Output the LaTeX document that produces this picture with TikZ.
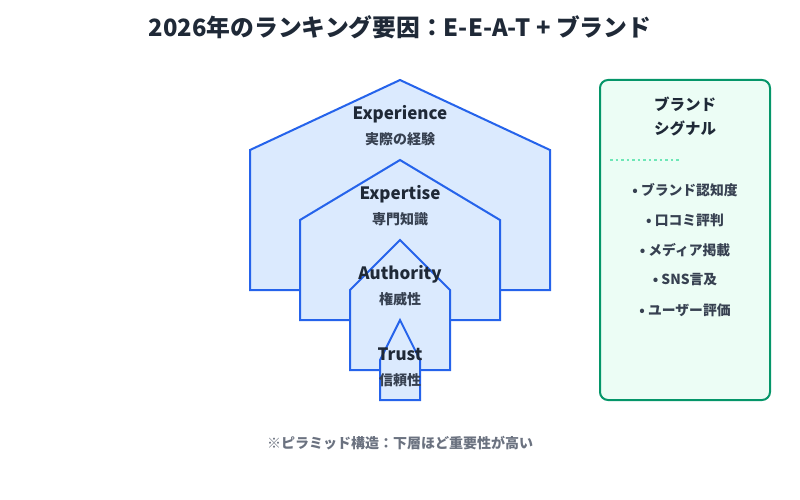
\documentclass[tikz,border=0pt]{standalone}
\usepackage{fontspec}
\setmainfont{Noto Sans CJK JP}
\definecolor{titlec}{HTML}{1F2937}
\definecolor{subc}{HTML}{374151}
\definecolor{footc}{HTML}{6B7280}
\definecolor{blfill}{HTML}{DBEAFE}
\definecolor{bldraw}{HTML}{2563EB}
\definecolor{grfill}{HTML}{ECFDF5}
\definecolor{grdraw}{HTML}{059669}
\definecolor{grdot}{HTML}{6EE7B7}
\tikzset{
  house/.style={fill=blfill, draw=bldraw, line width=2pt, line join=miter},
  lbl/.style={font=\fontsize{17}{19}\selectfont\bfseries, text=titlec, inner sep=0pt},
  sublbl/.style={font=\fontsize{14}{16}\selectfont\bfseries, text=subc, inner sep=0pt},
  item/.style={font=\fontsize{13.8}{16}\selectfont\bfseries, text=subc, inner sep=0pt},
}
\begin{document}
\begin{tikzpicture}[x=1pt,y=-1pt]
\useasboundingbox (0,0) rectangle (800,500);
% title
\node[font=\fontsize{23.8}{26}\selectfont\bfseries, text=titlec, inner sep=0pt] (title) at (400,27) {2026年のランキング要因：E-E-A-T + ブランド};
% houses
\draw[house] (250,290) -- (250,150) -- (400,80) -- (550,150) -- (550,290) -- cycle;
\node[lbl] (exp) at (400,114) {Experience};
\node[sublbl] (expj) at (400,139) {実際の経験};
\draw[house] (300,320) -- (300,220) -- (400,160) -- (500,220) -- (500,320) -- cycle;
\node[lbl] (ext) at (400,194) {Expertise};
\node[sublbl] (extj) at (400,219) {専門知識};
\draw[house] (350,370) -- (350,290) -- (400,240) -- (450,290) -- (450,370) -- cycle;
\node[lbl] (aut) at (400,274) {Authority};
\node[sublbl] (autj) at (400,299) {権威性};
\draw[house] (380,400) -- (380,360) -- (400,320) -- (420,360) -- (420,400) -- cycle;
\node[lbl] (tru) at (400,354) {Trust};
\node[sublbl] (truj) at (400,380) {信頼性};
% brand box
\draw[fill=grfill, draw=grdraw, line width=2pt, rounded corners=8pt] (600,80) rectangle (770,400);
\node[font=\fontsize{15.5}{17}\selectfont\bfseries, text=titlec, inner sep=0pt] (b1) at (685,104) {ブランド};
\node[font=\fontsize{15.5}{17}\selectfont\bfseries, text=titlec, inner sep=0pt] (b2) at (685,128) {シグナル};
\draw[grdot, line width=1.5pt, dash pattern=on 2.5pt off 3pt] (610,160) -- (680,160);
\node[item] (i1) at (685,190) {• ブランド認知度};
\node[item] (i2) at (685,220) {• 口コミ評判};
\node[item] (i3) at (685,250) {• メディア掲載};
\node[item] (i4) at (685,280) {• SNS言及};
\node[item] (i5) at (685,310) {• ユーザー評価};
% footnote
\node[font=\fontsize{14}{16}\selectfont\bfseries, text=footc, inner sep=0pt] (foot) at (400,443) {※ピラミッド構造：下層ほど重要性が高い};
\end{tikzpicture}
\end{document}
